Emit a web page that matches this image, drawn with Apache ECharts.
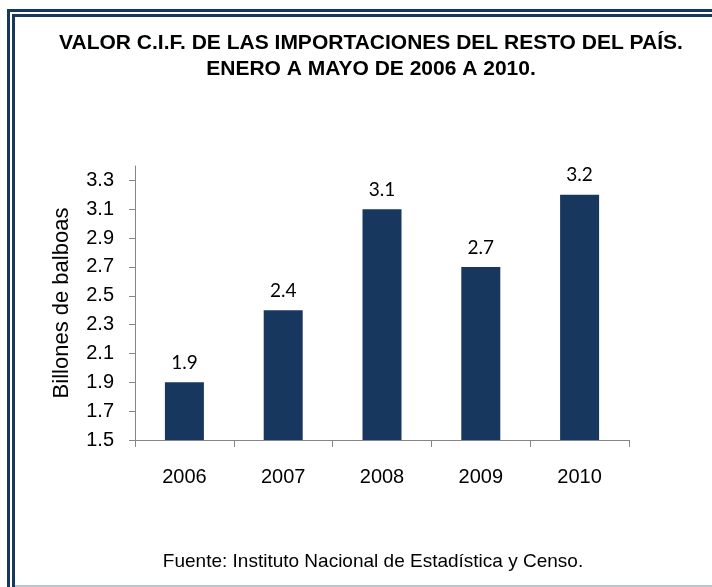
<!DOCTYPE html>
<html>
<head>
<meta charset="utf-8">
<script src="https://cdn.jsdelivr.net/npm/echarts@6/dist/echarts.min.js"></script>
<style>
  html, body { margin: 0; padding: 0; background: #fff; }
  #chart { width: 712px; height: 587px; }
</style>
</head>
<body>
<div id="chart"></div>
<script>
// datos del gráfico
var years = ["2006", "2007", "2008", "2009", "2010"];
var valores = [1.9, 2.4, 3.1, 2.7, 3.2];
var yTicks = [1.5, 1.7, 1.9, 2.1, 2.3, 2.5, 2.7, 2.9, 3.1, 3.3];

var myChart = echarts.init(document.getElementById("chart"));
var navy = "#17375E";

var option = {
  backgroundColor: "#fff",
  animation: false,
  title: {
    text: "VALOR C.I.F. DE LAS IMPORTACIONES DEL RESTO DEL PAÍS.\nENERO A MAYO DE 2006 A 2010.",
    left: 366,
    textAlign: "center",
    top: 25,
    textStyle: {
      fontFamily: "Liberation Sans, Arial",
      fontWeight: "bold",
      fontSize: 21,
      lineHeight: 26,
      color: "#000"
    }
  },
  grid: {
    left: 135,
    right: 83,
    top: 166,
    bottom: 147
  },
  xAxis: {
    type: "category",
    data: years,
    axisLine: { lineStyle: { color: "#868686", width: 1 } },
    axisTick: { show: true, length: 7, lineStyle: { color: "#868686" } },
    axisLabel: {
      margin: 27,
      fontFamily: "Liberation Sans, Arial",
      fontSize: 20,
      color: "#000"
    }
  },
  yAxis: {
    type: "value",
    min: 1.5,
    max: 3.4,
    interval: 0.2,
    name: "Billones de balboas",
    nameLocation: "middle",
    nameGap: 62,
    nameTextStyle: {
      fontFamily: "Liberation Sans, Arial",
      fontSize: 22,
      color: "#000"
    },
    splitLine: { show: false },
    axisLine: { show: true, lineStyle: { color: "#868686", width: 1 } },
    axisTick: { show: true, length: 6, customValues: yTicks, lineStyle: { color: "#868686" } },
    axisLabel: {
      margin: 21,
      customValues: yTicks,
      fontFamily: "Liberation Sans, Arial",
      fontSize: 20,
      color: "#000",
      formatter: function (v) { return v.toFixed(1); }
    }
  },
  series: [
    {
      type: "bar",
      data: valores,
      barWidth: 39,
      itemStyle: { color: navy },
      label: {
        show: true,
        position: "top",
        distance: 10,
        fontFamily: "Lato, Open Sans",
        fontSize: 19,
        color: "#000",
        formatter: function (p) { return p.value.toFixed(1); }
      }
    }
  ],
  graphic: [
    // marco doble
    { type: "rect", shape: { x: 7, y: 9, width: 3, height: 580 }, style: { fill: navy } },
    { type: "rect", shape: { x: 7, y: 9, width: 710, height: 3 }, style: { fill: navy } },
    { type: "rect", shape: { x: 12, y: 14, width: 3, height: 580 }, style: { fill: navy } },
    { type: "rect", shape: { x: 12, y: 14, width: 710, height: 3 }, style: { fill: navy } },
    { type: "rect", shape: { x: 15, y: 585, width: 700, height: 2 }, style: { fill: "#b8c4d0" } },
    {
      type: "text",
      style: {
        text: "Fuente: Instituto Nacional de Estadística y Censo.",
        x: 373,
        y: 562,
        align: "center",
        verticalAlign: "middle",
        font: "19px 'Liberation Sans', Arial",
        fill: "#000"
      }
    }
  ]
};
myChart.setOption(option);
</script>
</body>
</html>
